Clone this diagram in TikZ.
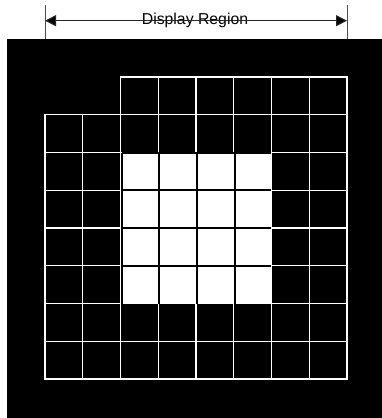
\documentclass[tikz,border=0pt]{standalone}
\usepackage{fontspec}
\setmainfont{Liberation Sans}
\usetikzlibrary{arrows.meta}

\begin{document}
\begin{tikzpicture}[x=1pt, y=-1pt,
    darkcell/.style={fill=black, draw=white, line width=1.4pt},
    innerline/.style={draw=black, line width=2pt},
    regiontip/.style={{Triangle[length=11pt,width=11pt,fill=black]}-{Triangle[length=11pt,width=11pt,fill=black]}}]
    \useasboundingbox (0,0) rectangle (382,418);
    \def\cs{37.75}

    % Black background
    \fill[black] (7,38.5) rectangle (382,418);

    % Dark cells
    \foreach \c in {2,...,7}
        \draw[darkcell] (45+\c*\cs, 77) rectangle ++(\cs, \cs);
    \foreach \r in {1,...,7}
        \foreach \c in {0,...,7}
            \draw[darkcell] (45+\c*\cs, 77+\r*\cs) rectangle ++(\cs, \cs);

    % Bright block
    \fill[white] (121.5, 152.5) rectangle (271, 303.5);
    \foreach \x in {121.5, 159.25, 197, 234.75}
        \draw[innerline] (\x, 152.5) -- (\x, 303.5);
    \foreach \y in {152.5, 190.25, 228, 265.75}
        \draw[innerline] (121.5, \y) -- (271, \y);

    % Annotations
    \draw[gray!60!black, line width=0.8pt] (45,5) -- (45,38.5);
    \draw[gray!60!black, line width=0.8pt] (347,5) -- (347,38.5);
    \coordinate (regionleft) at (45,20.7);
    \coordinate (regionright) at (347,20.7);
    \node[inner sep=0pt, anchor=base] (regionlabel) at (195,24.3)
        {\fontsize{15.8}{18}\selectfont Display Region};
    \draw[regiontip, line width=1pt, black!85] (regionleft) -- (regionright);
\end{tikzpicture}
\end{document}
